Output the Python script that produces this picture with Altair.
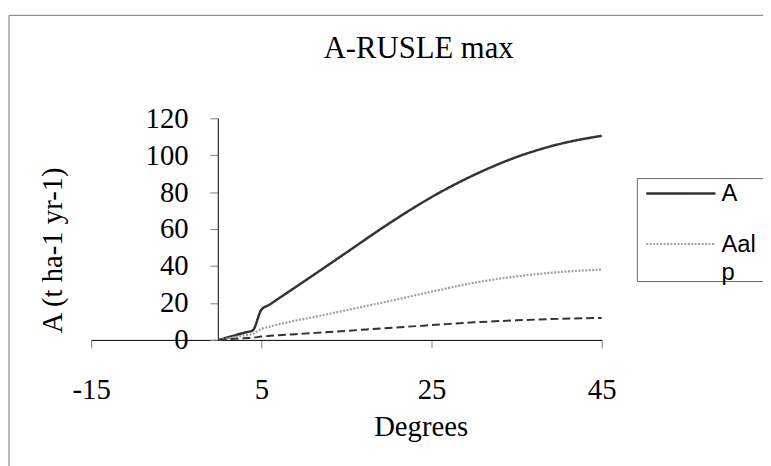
import altair as alt
import pandas as pd

# ---- data ----
degrees = [0, 1, 2, 3, 4, 5, 6, 7, 8, 9, 10, 15, 20, 25, 30, 35, 40, 45]
a_vals = [0, 1.3, 2.6, 3.9, 5.2, 16.3, 19.2, 22.3, 25.4, 28.5, 31.6, 47.3, 63.0, 77.3, 89.3, 99.0, 106.0, 110.5]
aalp_vals = [0, 0.8, 1.6, 2.4, 3.3, 5.9, 7.2, 8.4, 9.4, 10.4, 11.3, 16.1, 21.0, 26.1, 30.9, 34.4, 36.7, 38.1]
third_vals = [0, 0.3, 0.6, 0.9, 1.2, 1.8, 2.2, 2.5, 2.8, 3.1, 3.4, 4.9, 6.5, 8.0, 9.5, 10.6, 11.4, 11.9]
series_names = ["A", "Aalp", "A3"]
x_ticks = [-15, 5, 25, 45]
y_ticks = [0, 20, 40, 60, 80, 100, 120]
title_text = "A-RUSLE max"
x_title = "Degrees"
y_title = "A (t ha-1 yr-1)"

rows = []
for name, vals in zip(series_names, [a_vals, aalp_vals, third_vals]):
    for d, v in zip(degrees, vals):
        rows.append({"Degrees": d, "A": v, "series": name})
df = pd.DataFrame(rows)
one = pd.DataFrame({"k": [0]})

SERIF = "Liberation Serif"
SANS = "Liberation Sans"

line_colors = ["#333333", "#a0a0a0", "#333333"]
line_dashes = [[1, 0], [2, 1.5], [8, 4]]
line_widths = [2.5, 2, 2.5]

xscale = alt.Scale(domain=[-15, 45], nice=False, zero=False)
yscale = alt.Scale(domain=[0, 120], nice=False, zero=True)

x_axis = alt.Axis(
    values=x_ticks, labelExpr="toString(datum.value)", grid=False,
    domainColor="black", domainWidth=1,
    tickColor="#808080", tickSize=8, labelFont=SERIF, labelFontSize=29,
    labelColor="black", labelPadding=28, labelFlush=False, labelOverlap=False,
    title=x_title, titleFont=SERIF, titleFontSize=29, titleFontWeight="normal",
    titleColor="black", titleX=333, titleY=97, titleBaseline="alphabetic",
    titleAlign="center",
)
y_axis = alt.Axis(
    values=y_ticks, tickCount=7, labelExpr="toString(datum.value)", grid=False,
    offset=-128, domainColor="black", domainWidth=1,
    tickColor="#808080", tickSize=8, labelFont=SERIF, labelFontSize=29,
    labelColor="black", labelPadding=22, labelOverlap=False, labelFlush=False,
    title=y_title, titleFont=SERIF, titleFontSize=29, titleFontWeight="normal",
    titleColor="black", titleX=-158, titleY=133, titleAngle=270,
    titleBaseline="alphabetic", titleAlign="center",
)

# outer frame
frame = alt.Chart(one).mark_rect(fillOpacity=0, stroke="#777777", strokeWidth=1).encode(
    x=alt.value(-83), x2=alt.value(1000), y=alt.value(-104), y2=alt.value(1000)
)

lines = alt.Chart(df).mark_line(interpolate="monotone").encode(
    x=alt.X("Degrees:Q", scale=xscale, axis=x_axis),
    y=alt.Y("A:Q", scale=yscale, axis=y_axis),
    color=alt.Color("series:N", scale=alt.Scale(domain=series_names, range=line_colors), legend=None),
    strokeDash=alt.StrokeDash("series:N", scale=alt.Scale(domain=series_names, range=line_dashes), legend=None),
    strokeWidth=alt.StrokeWidth("series:N", scale=alt.Scale(domain=series_names, range=line_widths), legend=None),
)

# chart title
title = alt.Chart(one).mark_text(font=SERIF, fontSize=31, color="black", align="center",
                                 baseline="alphabetic").encode(
    x=alt.value(331), y=alt.value(-61), text=alt.value(title_text)
)

layers = [frame, lines, title]

# legend box (cut at right, as in the reference)
layers.append(
    alt.Chart(one).mark_rect(fill="white", stroke="#666666", strokeWidth=1).encode(
        x=alt.value(552), x2=alt.value(1000), y=alt.value(61), y2=alt.value(165)
    )
)
for i, ly in [(0, 76), (1, 127)]:
    layers.append(
        alt.Chart(one).mark_rule(color=line_colors[i], strokeWidth=line_widths[i],
                                 strokeDash=line_dashes[i]).encode(
            x=alt.value(561), x2=alt.value(631), y=alt.value(ly)
        )
    )
lab_a = series_names[0]
lab_b1, lab_b2 = series_names[1][:3], series_names[1][3:]
for txt, ty in [(lab_a, 77), (lab_b1, 128), (lab_b2, 156)]:
    layers.append(
        alt.Chart(one).mark_text(font=SANS, fontSize=24, color="black", align="left",
                                 baseline="middle").encode(
            x=alt.value(637), y=alt.value(ty), text=alt.value(txt)
        )
    )

chart = alt.layer(*layers).properties(
    width=516, height=224,
    padding={"left": 84, "top": 109, "right": 163, "bottom": 125},
    autosize=alt.AutoSizeParams(type="none"),
    background="white",
).configure_view(stroke=None)

chart.save("out.html", embed_options={"renderer": "svg", "actions": False})
